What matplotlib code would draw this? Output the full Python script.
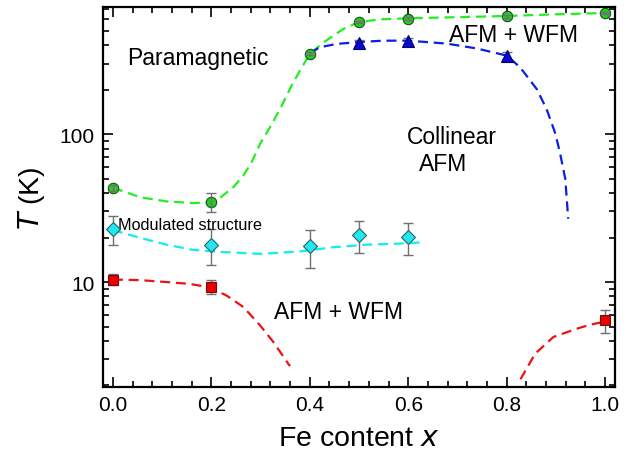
import matplotlib.pyplot as plt
from matplotlib.ticker import LogLocator, MultipleLocator, NullFormatter, FixedLocator

plt.rcParams['font.family'] = ['Liberation Sans', 'DejaVu Sans']

# measured transition temperatures
x_para = [0.0, 0.2, 0.4, 0.5, 0.6, 0.8, 1.0]
t_para = [43.4, 34.7, 349, 574, 604, 627, 660]
t_para_err = [2.0, 5.0, 8.0, 12.0, 12.0, 12.0, 12.0]

x_col = [0.5, 0.6, 0.8]
t_col = [416, 429, 340]
t_col_err = [20, 20, 20]

x_mod = [0.0, 0.2, 0.4, 0.5, 0.6]
t_mod = [22.7, 17.9, 17.4, 20.8, 20.3]
t_mod_lo = [4.9, 4.8, 4.9, 5.0, 5.0]
t_mod_hi = [5.1, 4.9, 5.1, 4.9, 4.7]

x_wfm = [0.0, 0.2, 1.0]
t_wfm = [10.4, 9.3, 5.5]
t_wfm_err = [0.9, 1.0, 1.0]

# guide-to-the-eye dashed curves
gx_para = [0.0, 0.055, 0.109, 0.163, 0.2, 0.217, 0.245, 0.265, 0.282, 0.299,
           0.323, 0.343, 0.363, 0.380, 0.4, 0.428, 0.468, 0.5, 0.543, 0.6,
           0.685, 0.8, 0.908, 1.0]
gt_para = [43.4, 37.5, 35.1, 34.2, 34.6, 37.0, 43.9, 52.5, 64.7, 86.0,
           117, 156, 213, 269, 349, 418, 515, 574, 598, 608,
           617, 630, 648, 660]

gx_col = [0.4, 0.42, 0.455, 0.5, 0.549, 0.6, 0.678, 0.739, 0.8, 0.827,
          0.861, 0.881, 0.898, 0.908, 0.919, 0.925]
gt_col = [352, 387, 408, 420, 429, 429, 410, 380, 340, 284,
          202, 148, 103, 75.6, 49.9, 26.8]

gx_mod = [0.0, 0.055, 0.109, 0.163, 0.217, 0.299, 0.380, 0.448, 0.516, 0.583, 0.635]
gt_mod = [22.5, 19.9, 17.9, 16.5, 16.0, 15.5, 16.1, 17.2, 17.9, 18.2, 18.6]

gx_wfm1 = [0.0, 0.055, 0.109, 0.157, 0.197, 0.231, 0.265, 0.299, 0.326, 0.356, 0.36]
gt_wfm1 = [10.4, 10.3, 10.0, 9.7, 9.2, 8.1, 6.78, 5.09, 3.93, 2.81, 2.7]

gx_wfm2 = [0.828, 0.858, 0.895, 0.942, 0.97, 1.0]
gt_wfm2 = [2.2, 3.28, 4.25, 4.83, 5.15, 5.4]

green_line = '#22ee22'
green_fill = '#22cc22'

fig = plt.figure(figsize=(6.34, 4.64), dpi=100)
ax = fig.add_axes([0.1625, 0.1638, 0.8075, 0.819])

dash = dict(lw=1.6, dashes=(4.5, 2.6))
ax.plot(gx_para, gt_para, color=green_line, zorder=2, **dash)
ax.plot(gx_col, gt_col, color='#0a1ee6', zorder=2, **dash)
ax.plot(gx_mod, gt_mod, color='#11eeee', zorder=2, **dash)
ax.plot(gx_wfm1, gt_wfm1, color='#ee1111', zorder=2, **dash)
ax.plot(gx_wfm2, gt_wfm2, color='#ee1111', zorder=2, **dash)

eb = dict(fmt='none', ecolor='#707070', elinewidth=1.0, capsize=3.5, capthick=1.0)
ax.errorbar(x_mod, t_mod, yerr=[t_mod_lo, t_mod_hi], zorder=3, **eb)
ax.errorbar(x_wfm, t_wfm, yerr=t_wfm_err, zorder=3, **eb)
ax.errorbar(x_col, t_col, yerr=t_col_err, zorder=3, **eb)

ax.plot(x_mod, t_mod, 'D', ms=7.5, mfc='#22e6f0', mec='#226666', mew=0.8, ls='none', zorder=4)
ax.plot(x_wfm, t_wfm, 's', ms=7.5, mfc='#ee0000', mec='#661111', mew=0.8, ls='none', zorder=4)
ax.plot(x_col, t_col, '^', ms=8, mfc='#0a0ad2', mec='#000066', mew=0.8, ls='none', zorder=4)
ax.plot(x_para, t_para, 'o', ms=7.5, mfc=green_fill, mec='#115511', mew=0.8, ls='none', zorder=4)
ax.errorbar(x_para, t_para, yerr=t_para_err, zorder=5, **eb)

ax.set_yscale('log')
ax.set_xlim(-0.02, 1.02)
ax.set_ylim(1.95, 725)

ax.xaxis.set_major_locator(MultipleLocator(0.2))
ax.xaxis.set_minor_locator(MultipleLocator(0.04))
ax.xaxis.set_major_formatter(plt.FuncFormatter(lambda v, p: f'{v:.1f}'))
ax.yaxis.set_major_locator(FixedLocator([10, 100]))
ax.yaxis.set_major_formatter(plt.FuncFormatter(lambda v, p: f'{v:g}'))
ax.yaxis.set_minor_locator(LogLocator(base=10, subs=range(2, 10)))
ax.yaxis.set_minor_formatter(NullFormatter())

ax.tick_params(which='both', direction='in', top=True, right=True, width=1.2, labelsize=15)
ax.tick_params(which='major', length=7, pad=6)
ax.tick_params(which='minor', length=4)
for s in ax.spines.values():
    s.set_linewidth(1.6)

ax.set_xlabel('Fe content $\\mathit{x}$', fontsize=20.5, labelpad=8)
ax.set_ylabel('$\\mathit{T}$ (K)', fontsize=20.5, labelpad=9)

ax.text(0.172, 330, 'Paramagnetic', fontsize=16.5, ha='center', va='center')
ax.text(0.814, 470, 'AFM + WFM', fontsize=16.5, ha='center', va='center')
ax.text(0.598, 96, 'Collinear', fontsize=16.5, ha='left', va='center')
ax.text(0.622, 63, 'AFM', fontsize=16.5, ha='left', va='center')
ax.text(0.459, 6.3, 'AFM + WFM', fontsize=16.5, ha='center', va='center')
ax.text(0.01, 24.5, 'Modulated structure', fontsize=11.7, ha='left', va='center')

fig.savefig('out.png', dpi=100)
